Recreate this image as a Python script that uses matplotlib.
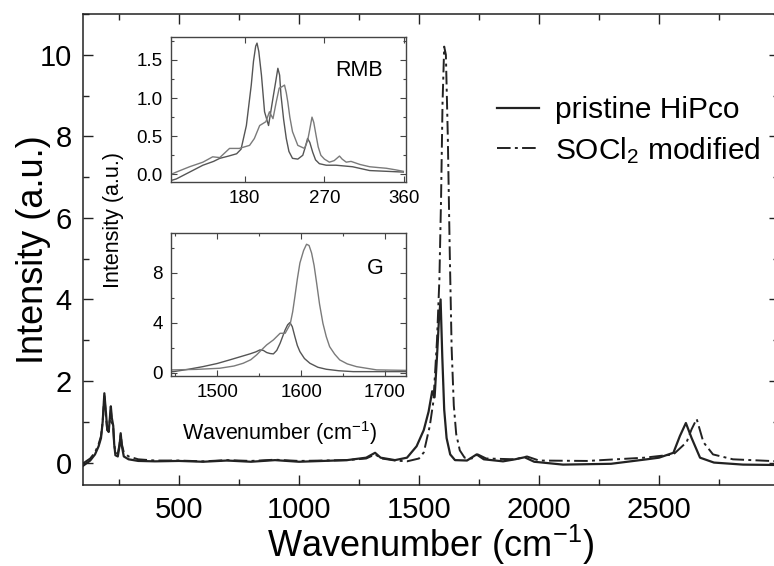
import matplotlib
matplotlib.use("Agg")
import matplotlib.pyplot as plt
from matplotlib.ticker import MultipleLocator

plt.rcParams['font.family'] = ['Liberation Sans', 'DejaVu Sans']
plt.rcParams['mathtext.fontset'] = 'custom'
plt.rcParams['mathtext.rm'] = 'Liberation Sans'
plt.rcParams['mathtext.it'] = 'Liberation Sans:italic'
plt.rcParams['mathtext.default'] = 'regular'

# ---------------- main spectrum data ----------------
pristine_w = [100, 130, 150, 165, 175, 182, 189, 196, 201, 207, 212, 216, 220, 226, 230, 235,
              245, 252, 257, 262, 270, 290, 330, 400, 500, 600, 700, 800, 900, 1000, 1100,
              1200, 1280, 1317, 1340, 1400, 1450, 1490, 1520, 1540, 1555, 1565, 1575, 1583,
              1590, 1597, 1605, 1615, 1630, 1650, 1700, 1740, 1770, 1850, 1900, 1940, 1980,
              2100, 2300, 2449, 2500, 2560, 2587, 2612, 2636, 2671, 2729, 2850, 3000]
pristine_i = [-0.08, 0.05, 0.2, 0.4, 0.6, 1.0, 1.70, 1.2, 0.8, 0.75, 1.1, 1.38, 1.1, 0.9, 0.45, 0.18,
              0.15, 0.4, 0.72, 0.4, 0.15, 0.08, 0.04, 0.03, 0.04, 0.02, 0.05, 0.02, 0.06, 0.02, 0.04,
              0.06, 0.12, 0.24, 0.12, 0.06, 0.12, 0.4, 0.8, 1.25, 1.75, 1.6, 2.6, 3.5,
              4.0, 2.6, 1.3, 0.6, 0.2, 0.06, 0.05, 0.2, 0.08, 0.03, 0.08, 0.13, 0.02,
              -0.05, -0.03, 0.08, 0.12, 0.24, 0.65, 0.97, 0.6, 0.12, 0.0, -0.05, -0.06]

socl2_w = [100, 130, 150, 165, 175, 182, 189, 196, 201, 207, 212, 216, 220, 226, 230, 235,
           245, 252, 257, 262, 270, 290, 330, 400, 500, 600, 700, 800, 900, 1000, 1100,
           1200, 1280, 1317, 1345, 1400, 1450, 1500, 1520, 1545, 1560, 1575, 1585, 1592,
           1598, 1605, 1612, 1620, 1628, 1636, 1645, 1655, 1670, 1690, 1720, 1745, 1780,
           1900, 1950, 2000, 2200, 2440, 2560, 2615, 2636, 2657, 2685, 2725, 2808, 3000]
socl2_i = [-0.02, 0.1, 0.25, 0.45, 0.65, 1.0, 1.65, 1.1, 0.8, 0.8, 1.05, 1.3, 1.0, 0.85, 0.45, 0.25,
           0.22, 0.45, 0.68, 0.45, 0.25, 0.15, 0.08, 0.05, 0.05, 0.03, 0.06, 0.04, 0.07, 0.04, 0.05,
           0.06, 0.1, 0.2, 0.1, 0.05, 0.03, 0.1, 0.25, 0.9, 1.5, 3.0, 4.5, 6.5,
           8.8, 10.2, 10.0, 8.0, 5.2, 2.8, 1.4, 0.7, 0.3, 0.12, 0.1, 0.2, 0.1,
           0.08, 0.15, 0.05, 0.04, 0.12, 0.2, 0.5, 0.82, 1.07, 0.5, 0.2, 0.08, 0.03]

# ---------------- RMB inset data ----------------
rmb_a_w = [97, 103, 118, 133, 145, 152, 162, 171, 176, 182, 187.5, 190, 192.5, 194, 196, 199, 202.5,
           207, 212, 215, 217.5, 219.5, 221, 224, 227, 230, 234, 240, 245.6, 248.5, 251, 253.5,
           256.8, 260, 264.3, 272, 283, 301.7, 321, 340, 359]
rmb_a_i = [-0.08, -0.06, 0.03, 0.12, 0.17, 0.21, 0.24, 0.27, 0.33, 0.64, 1.17, 1.48, 1.68, 1.72, 1.61,
           1.30, 0.82, 0.64, 1.0, 1.21, 1.39, 1.30, 1.04, 0.72, 0.47, 0.3, 0.21, 0.2, 0.25, 0.36, 0.47,
           0.42, 0.29, 0.19, 0.14, 0.12, 0.12, 0.1, 0.05, 0.04, 0.03]
rmb_b_w = [97, 103, 118, 133, 144, 152, 163, 174, 185.6, 191, 197, 204, 208, 212, 215.7, 219, 222.4,
           225, 227, 228.7, 231, 234, 240, 247.5, 251, 253, 256, 258, 260.6, 263, 266, 270, 275.6,
           281, 287, 290, 294.6, 300, 310, 321, 330, 339.8, 350, 359]
rmb_b_i = [0.0, 0.03, 0.1, 0.16, 0.23, 0.22, 0.34, 0.34, 0.38, 0.47, 0.64, 0.69, 0.82, 0.73, 0.95,
           1.13, 1.15, 1.17, 1.07, 0.95, 0.75, 0.56, 0.38, 0.34, 0.44, 0.56, 0.75, 0.68, 0.51, 0.36,
           0.25, 0.2, 0.16, 0.18, 0.24, 0.2, 0.16, 0.17, 0.13, 0.1, 0.09, 0.08, 0.06, 0.04]

# ---------------- G inset data ----------------
g_a_w = [1445, 1448, 1465, 1483, 1500, 1515, 1528, 1539, 1546, 1551, 1555, 1559, 1563, 1567, 1571,
         1575, 1581, 1584, 1586.7, 1589.5, 1592.6, 1595.5, 1598.6, 1604, 1610.5, 1620, 1630, 1645,
         1662, 1690, 1725]
g_a_i = [0.1, 0.1, 0.28, 0.5, 0.75, 1.04, 1.3, 1.52, 1.68, 1.84, 1.8, 1.63, 1.55, 1.52, 1.8,
         2.37, 3.44, 3.85, 4.03, 3.7, 2.9, 2.2, 1.7, 1.15, 0.77, 0.45, 0.29, 0.17, 0.1, 0.1, 0.1]
g_b_w = [1445, 1448, 1475, 1503, 1520, 1531, 1540, 1547, 1553, 1559, 1567, 1575, 1581, 1587,
         1590, 1592.6, 1595.5, 1598.6, 1603, 1606.5, 1609.5, 1612.5, 1615.5, 1618.5, 1622, 1626,
         1630, 1634, 1640, 1646, 1655, 1666, 1690, 1725]
g_b_i = [0.24, 0.24, 0.28, 0.37, 0.55, 0.77, 1.05, 1.44, 1.85, 2.24, 2.64, 3.17, 3.17, 3.9,
         4.9, 6.1, 7.5, 8.8, 9.8, 10.3, 10.2, 9.6, 8.6, 7.2, 5.5, 3.97, 2.9, 2.1, 1.5, 1.04, 0.72,
         0.5, 0.24, 0.2]

labels = ['pristine HiPco', 'SOCl$_2$ modified']
xlabel = 'Wavenumber (cm$^{-1}$)'
ylabel = 'Intensity (a.u.)'

W, H = 774, 566
fig = plt.figure(figsize=(W / 100, H / 100), dpi=100)

def rect(l, t, r, b):
    return [l / W, 1 - b / H, (r - l) / W, (b - t) / H]

ax = fig.add_axes(rect(83, 14, 779, 485))
ax.plot(pristine_w, pristine_i, color='#222222', lw=1.6, ls='-', label=labels[0])
ax.plot(socl2_w, socl2_i, color='#222222', lw=1.4, dashes=[7, 2.2, 1.5, 2.2], label=labels[1])
ax.set_xlim(100, 3000)
ax.set_ylim(-0.55, 11.0)
ax.set_xticks([500, 1000, 1500, 2000, 2500])
ax.xaxis.set_minor_locator(MultipleLocator(250))
ax.yaxis.set_major_locator(MultipleLocator(2))
ax.yaxis.set_minor_locator(MultipleLocator(1))
ax.tick_params(which='both', direction='in', top=True, right=True, width=1.0, color='#222222')
ax.tick_params(which='major', length=7, labelsize=21, pad=8)
ax.tick_params(which='minor', length=4)
for s in ax.spines.values():
    s.set_linewidth(1.1)
    s.set_color('#222222')
ax.set_xlabel(xlabel, fontsize=26, labelpad=-1)
ax.set_ylabel(ylabel, fontsize=26, labelpad=-8)
ax.legend(loc='upper left', bbox_to_anchor=(497 / W, 1 - 96 / H), bbox_transform=fig.transFigure,
          frameon=False, fontsize=21.5, handlelength=1.4, handletextpad=0.55, labelspacing=0.36,
          borderpad=0, borderaxespad=0)

# RMB inset
ax1 = fig.add_axes(rect(171, 37, 406, 182))
ax1.plot(rmb_a_w, rmb_a_i, color='#555555', lw=1.0)
ax1.plot(rmb_b_w, rmb_b_i, color='#7a7a7a', lw=1.0)
ax1.set_xlim(97, 362)
ax1.set_ylim(-0.1, 1.8)
ax1.set_xticks([180, 270, 360])
ax1.set_yticks([0.0, 0.5, 1.0, 1.5])
ax1.set_yticklabels(['0.0', '0.5', '1.0', '1.5'])
ax1.yaxis.set_minor_locator(MultipleLocator(0.25))
ax1.text(0.70, 0.77, 'RMB', transform=ax1.transAxes, fontsize=15.5, va='center', ha='left')

# G inset
ax2 = fig.add_axes(rect(171, 233, 406, 376))
ax2.plot(g_a_w, g_a_i, color='#555555', lw=1.0)
ax2.plot(g_b_w, g_b_i, color='#7a7a7a', lw=1.0)
ax2.set_xlim(1445, 1725)
ax2.set_ylim(-0.25, 11.2)
ax2.set_xticks([1500, 1600, 1700])
ax2.set_yticks([0, 4, 8])
ax2.xaxis.set_minor_locator(MultipleLocator(50))
ax2.yaxis.set_minor_locator(MultipleLocator(2))
ax2.text(0.87, 0.755, 'G', transform=ax2.transAxes, fontsize=15.5, va='center', ha='center')

for a in (ax1, ax2):
    a.tick_params(which='both', direction='in', top=True, right=True, color='#444444', width=0.8)
    a.tick_params(which='major', length=4, labelsize=13.5, pad=6)
    a.tick_params(which='minor', length=2.5)
    for s in a.spines.values():
        s.set_linewidth(1.0)
        s.set_color('#444444')

fig.text(113 / W, 1 - 220 / H, ylabel, rotation=90, fontsize=15.5, ha='center', va='center')
fig.text(280 / W, 1 - 433 / H, xlabel, fontsize=15.5, ha='center', va='center')

fig.savefig('out.png', dpi=100)
